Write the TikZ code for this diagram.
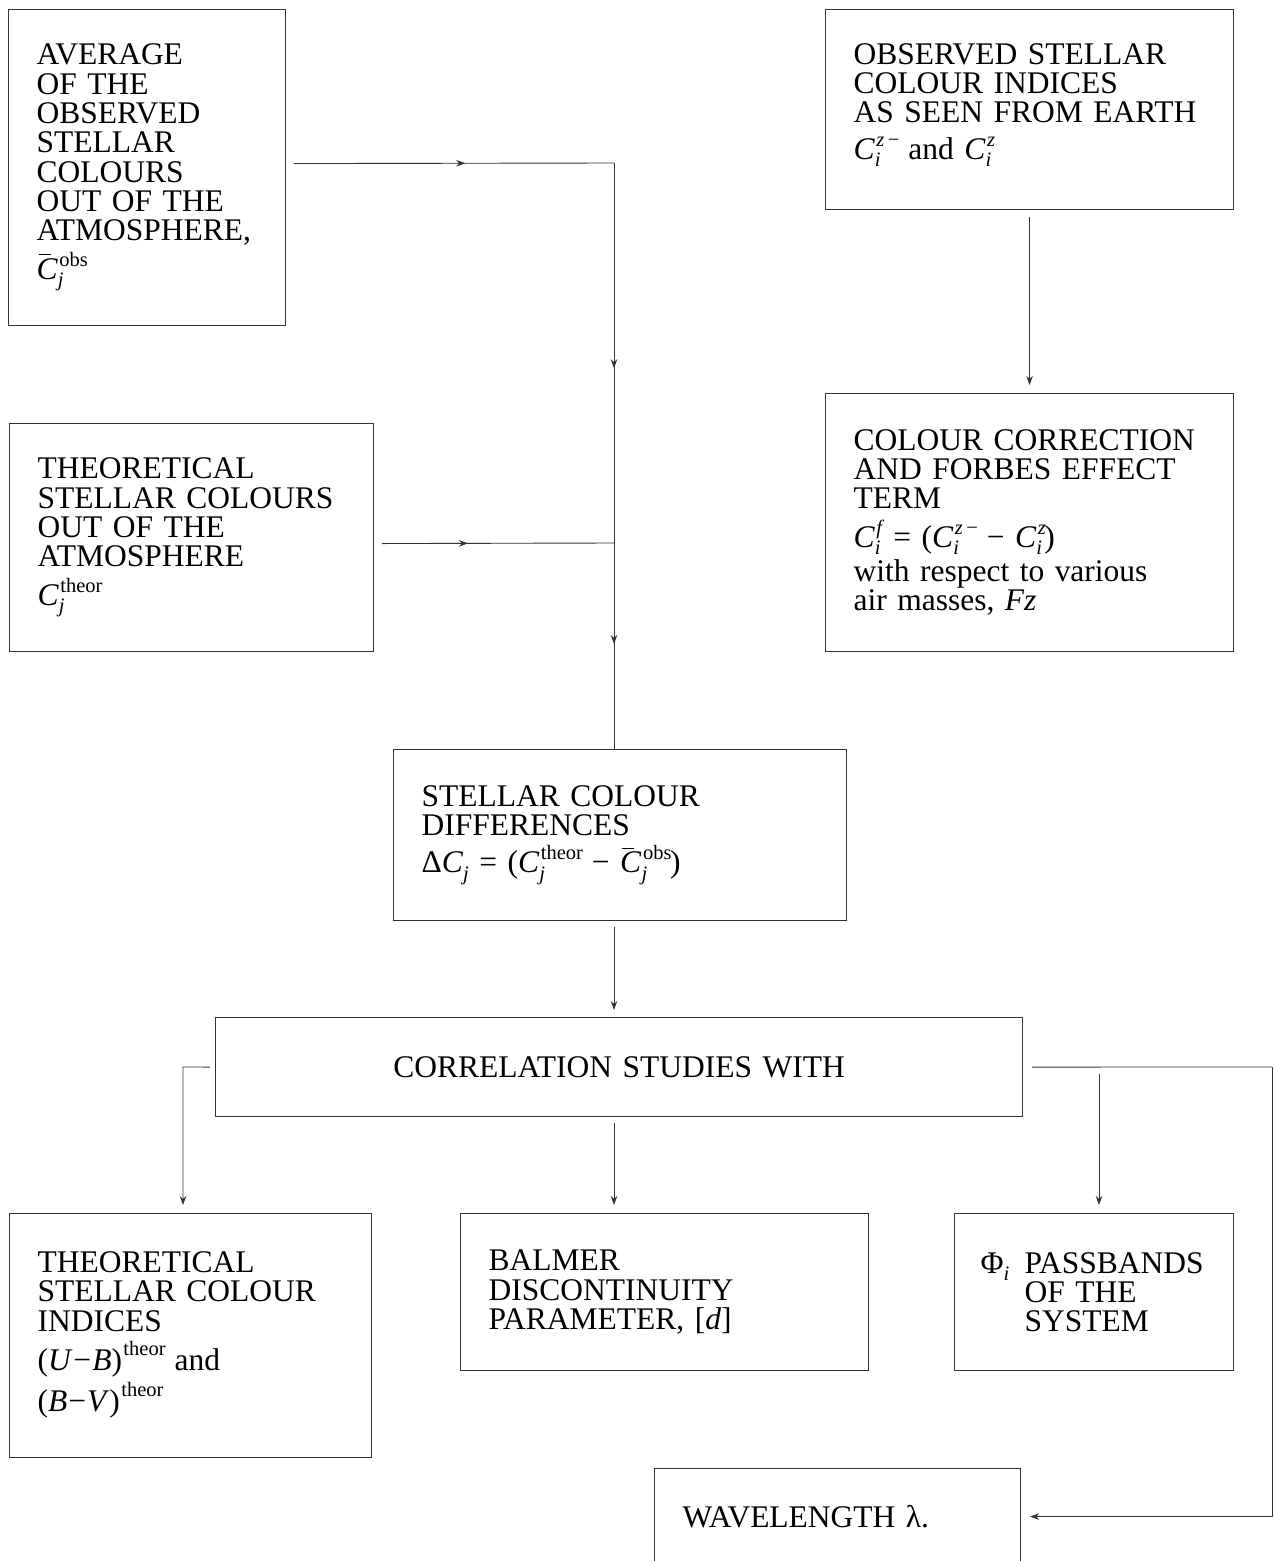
\documentclass[tikz,border=0pt]{standalone}
\usepackage{fontspec}
\usepackage{graphicx}
\setmainfont[WordSpace=1.6]{Liberation Serif}
\usetikzlibrary{arrows.meta,decorations.markings}
\newcommand\tfont{\fontsize{31.5}{29.3}\selectfont\lineskiplimit=-50pt\lineskip=0pt}
\newcommand\sus[3][13pt]{%
  \setbox0=\hbox{\fontsize{20.5}{20}\selectfont #2}%
  \setbox2=\hbox{\fontsize{20.5}{20}\selectfont #3}%
  \ifdim\wd0>\wd2\relax\dimen0=\wd0\relax\else\dimen0=\wd2\relax\fi
  \hbox to \dimen0{\rlap{\kern1.5pt\raise#1\box0}\lower7.5pt\box2\hfil}}
\newcommand\Cbar{\leavevmode\rlap{\kern2pt\rule[24pt]{12pt}{1.3pt}}\textit{C}}
\begin{document}
\begin{tikzpicture}[x=1pt,y=-1pt,
  box/.style={draw=black!80, line width=1.1pt, inner xsep=28pt, inner ysep=0pt,
    align=left, anchor=north west, font=\tfont},
  ln/.style={draw=black!80, line width=0.9pt},
  arr/.style={ln,-{Stealth[length=9pt,width=6.5pt]}},
  midarr/.style={ln, postaction={decorate}, decoration={markings,
    mark=at position #1 with {\arrow{Stealth[length=9pt,width=6.5pt]}}}}]
\path[use as bounding box, fill=white] (0,0) rectangle (1274,1561);

\node[box, text width=221pt, minimum height=316pt] (A) at (8,9)
  {AVERAGE\\OF THE\\OBSERVED\\STELLAR\\COLOURS\\OUT OF THE\\ATMOSPHERE,\\[9pt]\Cbar\sus{obs}{\textit{j}}};
\node[box, text width=352pt, minimum height=200pt] (B) at (825,9)
  {OBSERVED STELLAR\\COLOUR INDICES\\AS SEEN FROM EARTH\\[7pt]\textit{C}\sus{\textit{z}\,−}{\textit{i}} and \textit{C}\sus{\textit{z}}{\textit{i}}\\[-13pt]\mbox{}};
\node[box, text width=308pt, minimum height=228pt] (C) at (9,423)
  {THEORETICAL\\STELLAR COLOURS\\OUT OF THE\\ATMOSPHERE\\[9pt]\textit{C}\sus{theor}{\textit{j}}};
\node[box, text width=352pt, minimum height=258pt] (E) at (825,393)
  {COLOUR CORRECTION\\AND FORBES EFFECT\\TERM\\[9pt]\textit{C}\sus{\textit{f}}{\textit{i}} = (\textit{C}\sus{\textit{z}\,−}{\textit{i}} − \textit{C}\sus{\textit{z}}{\textit{i}})\\[5pt]with respect to various\\air masses, \textit{Fz}};
\node[box, text width=397pt, minimum height=171pt] (D) at (393,749)
  {STELLAR COLOUR\\DIFFERENCES\\[8pt]Δ\textit{C}\sus{}{\textit{j}} = (\textit{C}\sus{theor}{\textit{j}} − \Cbar\sus{obs}{\textit{j}})};
\node[box, align=center, text width=751pt, minimum height=99pt] (F) at (215,1017)
  {CORRELATION STUDIES WITH};
\node[box, text width=306pt, minimum height=244pt] (G) at (9,1213)
  {THEORETICAL\\STELLAR COLOUR\\INDICES\\[10pt](\textit{U}\kern1pt−\kern1pt\textit{B})\sus[15pt]{theor}{} and\\[12pt](\textit{B}\kern1pt−\kern1pt\textit{V})\sus[15pt]{theor}{}};
\node[box, text width=352pt, minimum height=157pt] (H) at (460,1213)
  {BALMER\\DISCONTINUITY\\PARAMETER, [\textit{d}]};
\node[box, inner xsep=26pt, text width=227pt, minimum height=157pt] (I) at (954,1213)
  {\makebox[44pt][l]{Φ\sus{}{\textit{i}}}PASSBANDS\\\hspace*{44pt}OF THE\\\hspace*{44pt}SYSTEM};
\node[box, text width=310pt, minimum height=96pt] (J) at (654,1468)
  {WAVELENGTH λ.};

\coordinate (tA) at (614,163);
\coordinate (tC) at (614,543);
\coordinate (gL) at (183,1067);
\coordinate (rE) at (1272,1067);
\coordinate (rI) at (1099,1067);

\draw[midarr=0.535] ([xshift=8pt,yshift=4pt]A.east) -- (tA);
\draw[midarr=0.54] (tA) -- (tC);
\draw[midarr=0.37] ([xshift=8pt,yshift=-6pt]C.east) -- (tC);
\draw[midarr=0.49] (tC) -- (D.north -| tC);
\draw[arr] ([yshift=-7pt]B.south) -- ([yshift=8pt]E.north);
\draw[arr] ([yshift=-6pt]D.south -| tC) -- ([yshift=7pt]F.north -| tC);
\draw[arr] ([yshift=-6pt]F.south -| tC) -- ([yshift=8pt]H.north -| tC);
\draw[arr] ([xshift=-5pt]F.west) -- (gL) -- ([yshift=8pt]G.north -| gL);
\draw[ln] ([xshift=9pt]F.east) -- (rE);
\draw[arr] (rE) -- (rE |- J.east) -- ([xshift=9pt]J.east);
\draw[arr] ([yshift=-7pt]rI) -- ([yshift=8pt]I.north -| rI);
\end{tikzpicture}
\end{document}
